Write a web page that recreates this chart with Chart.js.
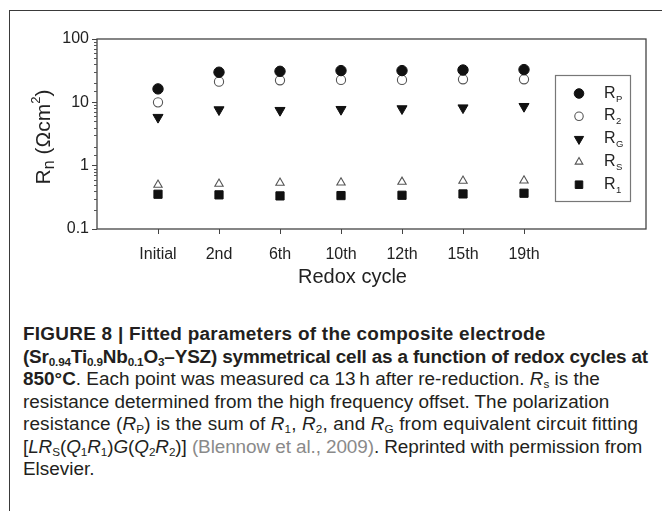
<!DOCTYPE html>
<html>
<head>
<meta charset="utf-8">
<script src="https://cdn.jsdelivr.net/npm/chart.js@4.4.1/dist/chart.umd.min.js"></script>
<style>
  html, body { margin: 0; padding: 0; background: #fff; }
  #wrap { position: relative; width: 662px; height: 511px; overflow: hidden; background: #fff; }
  #frame { position: absolute; left: 9px; top: 10px; width: 700px; height: 600px;
           border-top: 1.5px solid #3a3a3a; border-left: 1.5px solid #3a3a3a; }
  #chart { position: absolute; left: 0; top: 0; }
  #caption { position: absolute; left: 23px; top: 323px; width: 700px;
             font-family: "Liberation Sans", Arial, sans-serif;
             font-size: 18.3px; line-height: 22.5px; color: #231f20; white-space: nowrap;
             transform: scaleX(1.035); transform-origin: 0 0; }
  #caption b { font-weight: bold; }
  #caption sub { font-size: 62%; vertical-align: -0.25em; line-height: 0; }
  #caption .g { color: #8a8a8a; }
  #caption .l1 { letter-spacing: 0.26px; }
  #caption .l2 { letter-spacing: -0.17px; }
  #caption .l5 { letter-spacing: 0.14px; }
  #caption .l6 { letter-spacing: -0.09px; }
</style>
</head>
<body>
<div id="wrap">
  <div id="frame"></div>
  <canvas id="chart" width="662" height="300"></canvas>
  <div id="caption">
    <span class="l1"><b>FIGURE 8 | Fitted parameters of the composite electrode</b></span><br>
    <span class="l2"><b>(Sr<sub>0.94</sub>Ti<sub>0.9</sub>Nb<sub>0.1</sub>O<sub>3</sub>–YSZ) symmetrical cell as a function of redox cycles at</b></span><br>
    <span class="l3"><b>850°C</b>. Each point was measured ca 13&#8201;h after re-reduction. <i>R</i><sub>s</sub> is the</span><br>
    <span class="l4">resistance determined from the high frequency offset. The polarization</span><br>
    <span class="l5">resistance (<i>R</i><sub>P</sub>) is the sum of <i>R</i><sub>1</sub>, <i>R</i><sub>2</sub>, and <i>R</i><sub>G</sub> from equivalent circuit fitting</span><br>
    <span class="l6">[<i>LR</i><sub>S</sub>(<i>Q</i><sub>1</sub><i>R</i><sub>1</sub>)<i>G</i>(<i>Q</i><sub>2</sub><i>R</i><sub>2</sub>)] <span class="g">(Blennow et al., 2009)</span>. Reprinted with permission from</span><br>
    <span class="l7">Elsevier.</span>
  </div>
</div>
<script>
// ---- data ----
const categories = ['Initial', '2nd', '6th', '10th', '12th', '15th', '19th'];
const rP = [16.3, 29.9, 30.9, 31.7, 31.7, 32.4, 32.9];
const r2 = [10.0, 21.2, 22.3, 22.6, 22.6, 23.1, 23.1];
const rG = [5.8, 7.65, 7.47, 7.74, 7.94, 8.2, 8.63];
const rS = [0.497, 0.516, 0.535, 0.541, 0.554, 0.575, 0.582];
const r1 = [0.354, 0.346, 0.333, 0.337, 0.341, 0.358, 0.367];
const yTickValues = [0.1, 1, 10, 100];
const legendNames = [['R', 'P'], ['R', '2'], ['R', 'G'], ['R', 'S'], ['R', '1']];

const FONT = '"Liberation Sans", Arial, sans-serif';
const pts = arr => arr.map((v, i) => ({ x: i, y: v }));
const isPow10 = v => Math.abs(Math.log10(v) - Math.round(Math.log10(v))) < 1e-6;
const fmt = v => v >= 1 ? String(Math.round(v)) : v.toFixed(1);

const seriesStyles = [
  { data: rP, pointStyle: 'circle',   radius: 5.2, rotation: 0,   fill: '#111', stroke: '#111', bw: 1 },
  { data: r2, pointStyle: 'circle',   radius: 4.6, rotation: 0,   fill: '#fff', stroke: '#555', bw: 1.1 },
  { data: rG, pointStyle: 'triangle', radius: 5.8, rotation: 180, fill: '#111', stroke: '#111', bw: 1 },
  { data: rS, pointStyle: 'triangle', radius: 4.8, rotation: 0,   fill: '#fff', stroke: '#555', bw: 1.1 },
  { data: r1, pointStyle: 'rect',     radius: 5.8, rotation: 0,   fill: '#111', stroke: '#111', bw: 1 }
];

const datasets = seriesStyles.map((s, k) => ({
  label: legendNames[k].join(''),
  data: pts(s.data),
  showLine: false,
  pointStyle: s.pointStyle,
  pointRadius: s.radius,
  pointRotation: s.rotation,
  pointBackgroundColor: s.fill,
  pointBorderColor: s.stroke,
  pointBorderWidth: s.bw,
  pointHoverRadius: s.radius
}));

function drawMarker(ctx, s, r, x, y) {
  if (Chart.helpers && Chart.helpers.drawPoint) {
    Chart.helpers.drawPoint(ctx, { pointStyle: s.pointStyle, radius: r, rotation: s.rotation, borderWidth: s.bw }, x, y);
    return;
  }
  ctx.beginPath();
  if (s.pointStyle === 'circle') ctx.arc(x, y, r, 0, Math.PI * 2);
  else if (s.pointStyle === 'rect') { const h = r * Math.SQRT1_2; ctx.rect(x - h, y - h, 2 * h, 2 * h); }
  else {
    const dir = s.rotation === 180 ? -1 : 1;
    for (let i = 0; i < 3; i++) {
      const ang = -Math.PI / 2 + i * 2 * Math.PI / 3;
      const px = x + r * Math.cos(ang), py = y + dir * r * Math.sin(ang);
      i ? ctx.lineTo(px, py) : ctx.moveTo(px, py);
    }
    ctx.closePath();
  }
  ctx.fill();
  ctx.stroke();
}

const decorPlugin = {
  id: 'decor',
  beforeDatasetsDraw(chart) {
    const { ctx, chartArea: a, scales } = chart;
    ctx.save();
    ctx.strokeStyle = '#444';
    ctx.lineWidth = 1.3;
    ctx.strokeRect(a.left, a.top, a.right - a.left, a.bottom - a.top);
    ctx.lineWidth = 1;
    ctx.strokeStyle = '#555';
    scales.y.ticks.forEach(t => {
      if (isPow10(t.value)) return;
      const py = Math.round(scales.y.getPixelForValue(t.value)) + 0.5;
      ctx.beginPath();
      ctx.moveTo(a.left - 3, py);
      ctx.lineTo(a.left, py);
      ctx.stroke();
    });
    ctx.restore();
  },
  afterDraw(chart) {
    const { ctx, chartArea: a } = chart;
    ctx.save();
    ctx.fillStyle = '#222';
    ctx.font = '20px ' + FONT;
    ctx.textAlign = 'center';
    ctx.textBaseline = 'alphabetic';
    ctx.fillText('Redox cycle', (a.left + a.right) / 2 - 19, 283);
    ctx.translate(50, (a.top + a.bottom) / 2 + 3);
    ctx.rotate(-Math.PI / 2);
    const parts = [
      { t: 'R', size: 21, dy: 0 },
      { t: 'n', size: 16, dy: 4 },
      { t: ' (\u03A9cm', size: 21, dy: 0 },
      { t: '2', size: 13, dy: -10 },
      { t: ')', size: 21, dy: 0 }
    ];
    let total = 0;
    parts.forEach(p => { ctx.font = p.size + 'px ' + FONT; p.w = ctx.measureText(p.t).width; total += p.w; });
    let x = -total / 2;
    ctx.textAlign = 'left';
    parts.forEach(p => { ctx.font = p.size + 'px ' + FONT; ctx.fillText(p.t, x, p.dy); x += p.w; });
    ctx.restore();

    ctx.save();
    const lx = 555, ly = 75, lw = 75, lh = 126;
    ctx.strokeStyle = '#777';
    ctx.lineWidth = 1.2;
    ctx.strokeRect(lx + 0.5, ly + 0.5, lw, lh);
    seriesStyles.forEach((s, k) => {
      const cy = 93.5 + k * 22.8;
      ctx.fillStyle = s.fill;
      ctx.strokeStyle = s.stroke;
      ctx.lineWidth = s.bw;
      drawMarker(ctx, s, s.radius * 0.92, 579, cy);
      ctx.fillStyle = '#222';
      ctx.font = '16px ' + FONT;
      ctx.textAlign = 'left';
      ctx.textBaseline = 'alphabetic';
      ctx.fillText(legendNames[k][0], 604, cy + 4);
      const w = ctx.measureText(legendNames[k][0]).width;
      ctx.font = '9.5px ' + FONT;
      ctx.fillText(legendNames[k][1], 604 + w + 0.5, cy + 8);
    });
    ctx.restore();
  }
};

new Chart(document.getElementById('chart'), {
  type: 'scatter',
  data: { datasets },
  plugins: [decorPlugin],
  options: {
    responsive: false,
    animation: false,
    devicePixelRatio: 1,
    layout: { padding: { top: 39, right: 16, left: 0, bottom: 0 } },
    plugins: { legend: { display: false }, tooltip: { enabled: false } },
    scales: {
      x: {
        type: 'linear',
        min: -1, max: 8,
        afterFit: s => { s.height = 71; },
        border: { display: false },
        grid: {
          drawOnChartArea: false, drawTicks: true, tickLength: 5,
          tickColor: c => (c.tick && c.tick.value >= 0 && c.tick.value < categories.length) ? '#444' : 'rgba(0,0,0,0)'
        },
        ticks: {
          stepSize: 1, autoSkip: false, maxRotation: 0, padding: 11,
          color: '#222', font: { family: FONT, size: 16 },
          callback: v => (v >= 0 && v < categories.length) ? categories[v] : ''
        }
      },
      y: {
        type: 'logarithmic',
        min: yTickValues[0], max: yTickValues[yTickValues.length - 1],
        afterFit: s => { s.width = 97; },
        border: { display: false },
        grid: {
          drawOnChartArea: false, drawTicks: true, tickLength: 5,
          tickColor: c => (c.tick && isPow10(c.tick.value)) ? '#444' : 'rgba(0,0,0,0)'
        },
        ticks: {
          autoSkip: false, padding: 3,
          color: '#222', font: { family: FONT, size: 16 },
          callback: v => yTickValues.some(t => Math.abs(t - v) / t < 1e-6) ? fmt(v) : ''
        }
      }
    }
  }
});
</script>
</body>
</html>
